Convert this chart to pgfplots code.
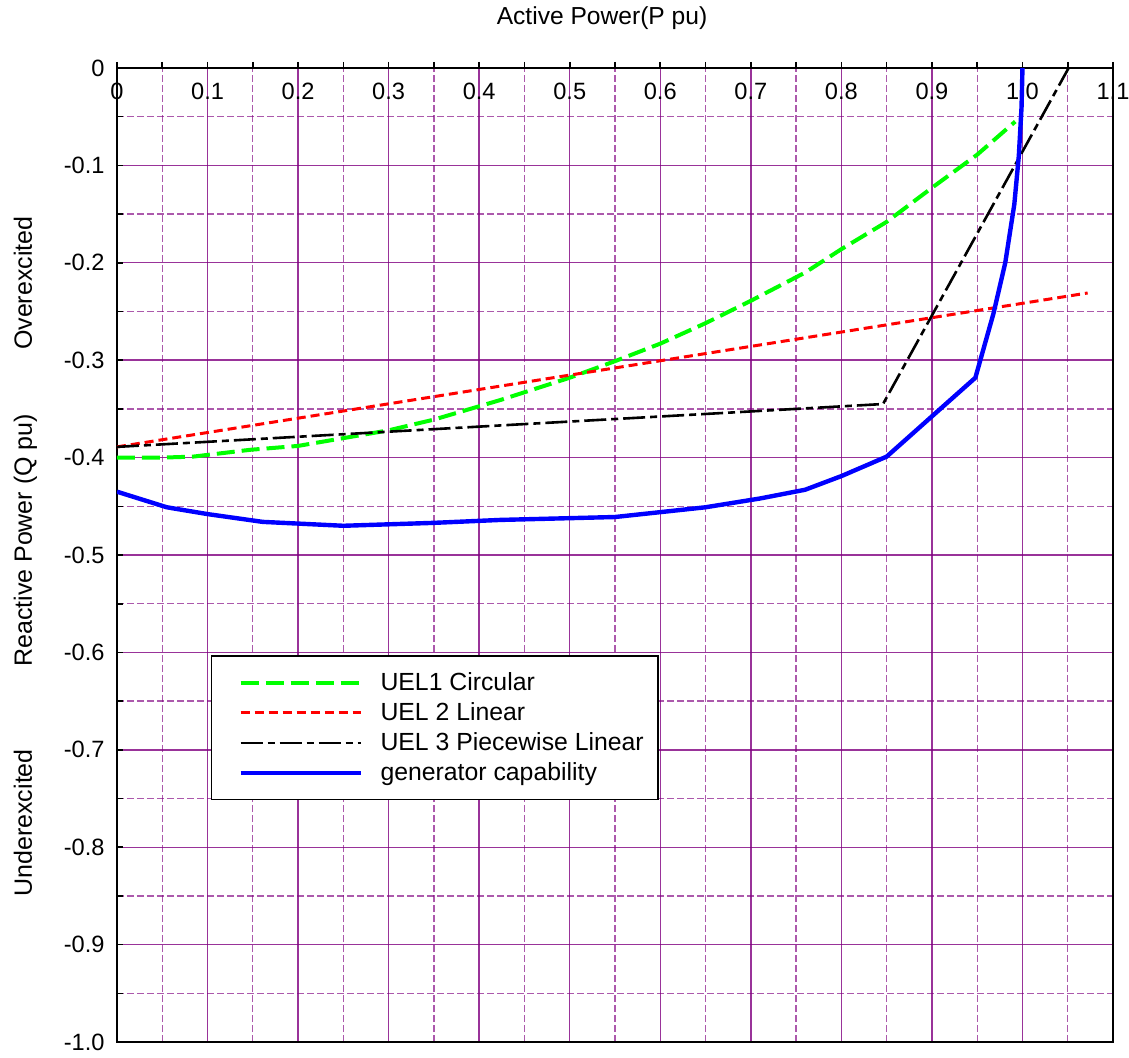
\documentclass[border=0pt]{standalone}
\usepackage{fontspec}
\setmainfont{Liberation Sans}
\usepackage{pgfplots}
\pgfplotsset{compat=1.18}
\definecolor{gridpurple}{RGB}{128,0,128}
\definecolor{ggreen}{RGB}{0,255,0}
\begin{document}
\begin{tikzpicture}
\begin{axis}[
  scale only axis, width=498pt, height=487pt,
  xmin=0, xmax=1.1, ymin=-1, ymax=0,
  axis line style={line width=1pt},
  xtick={0,0.1,0.2,0.3,0.4,0.5,0.6,0.7,0.8,0.9,1.0,1.1},
  xticklabels={0,0.1,0.2,0.3,0.4,0.5,0.6,0.7,0.8,0.9,1.0,1.1},
  minor xtick={0.05,0.15,0.25,0.35,0.45,0.55,0.65,0.75,0.85,0.95,1.05},
  ytick={-1,-0.9,-0.8,-0.7,-0.6,-0.5,-0.4,-0.3,-0.2,-0.1,0},
  yticklabels={-1.0,-0.9,-0.8,-0.7,-0.6,-0.5,-0.4,-0.3,-0.2,-0.1,0},
  minor ytick={-0.95,-0.85,-0.75,-0.65,-0.55,-0.45,-0.35,-0.25,-0.15,-0.05},
  grid=both,
  major grid style={gridpurple, opacity=0.8, line width=0.7pt},
  minor grid style={gridpurple, opacity=0.65, line width=0.65pt, dash pattern=on 3.5pt off 1.5pt},
  xtick pos=right, ytick pos=left, xticklabel pos=right,
  xtick align=outside, ytick align=inside,
  major tick length=3pt, minor tick length=3pt,
  tick style={black, line width=0.8pt},
  ticklabel style={font=\fontsize{11.8}{13}\selectfont},
  xticklabel style={anchor=center, yshift=-14.5pt},
  yticklabel style={xshift=-2.7pt},
  legend style={at={(rel axis cs:0.0944,0.397)}, anchor=north west, draw=black,
    line width=0.7pt, fill=white, font=\fontsize{12.4}{14}\selectfont,
    inner xsep=5pt, inner ysep=6.2pt, row sep=0.5pt,
    /tikz/every odd column/.append style={column sep=6.8pt}},
  legend cell align=left,
  legend image code/.code={\path[draw=none] (0pt,0pt) -- (0pt,0.01pt); \draw[#1] (9.5pt,0pt) -- (69.5pt,0pt);},
]
\addplot[color=ggreen, line width=2pt, dash pattern=on 9pt off 3.5pt] coordinates {
(0,-0.400) (0.05,-0.400) (0.084,-0.399) (0.147,-0.392) (0.2,-0.388) (0.25,-0.380)
(0.3,-0.372) (0.35,-0.361) (0.423,-0.341) (0.5,-0.318) (0.55,-0.301) (0.6,-0.283)
(0.65,-0.262) (0.7,-0.239) (0.76,-0.210) (0.8,-0.186) (0.85,-0.158) (0.9,-0.123)
(0.95,-0.089) (0.992,-0.055)};
\addlegendentry{UEL1 Circular}
\addplot[color=red, line width=1.5pt, dash pattern=on 4.5pt off 2.5pt] coordinates {
(0,-0.389) (1.072,-0.231)};
\addlegendentry{UEL 2 Linear}
\addplot[color=black, line width=1.3pt, dash pattern=on 11pt off 2.5pt on 3.5pt off 2.5pt] coordinates {
(0,-0.389) (0.846,-0.345) (1.051,0)};
\addlegendentry{UEL 3 Piecewise Linear}
\addplot[color=blue, line width=2.2pt] coordinates {
(0,-0.435) (0.055,-0.451) (0.1,-0.458) (0.161,-0.466) (0.25,-0.470) (0.35,-0.467)
(0.423,-0.464) (0.55,-0.461) (0.65,-0.451) (0.71,-0.442) (0.76,-0.433) (0.8,-0.419)
(0.85,-0.399) (0.948,-0.318) (0.968,-0.252) (0.981,-0.200) (0.991,-0.14)
(0.996,-0.09) (0.999,-0.04) (1.0,0)};
\addlegendentry{generator capability}
\coordinate (sw) at (rel axis cs:0,0);
\coordinate (ov) at (axis cs:0,-0.221);
\coordinate (rp) at (axis cs:0,-0.485);
\coordinate (un) at (axis cs:0,-0.775);
\coordinate (tt) at (rel axis cs:0.487,1);
\end{axis}
\node[rotate=90, anchor=base, font=\fontsize{12.5}{14}\selectfont] at ([xshift=-42.5pt]ov) {Overexcited};
\node[rotate=90, anchor=base, font=\fontsize{12.5}{14}\selectfont] at ([xshift=-42.5pt]rp) {Reactive Power (Q pu)};
\node[rotate=90, anchor=base, font=\fontsize{12.5}{14}\selectfont] at ([xshift=-42.5pt]un) {Underexcited};
\node[anchor=base, font=\fontsize{12.3}{14}\selectfont] at ([yshift=21.5pt]tt) {Active Power(P pu)};
\pgfresetboundingbox
\useasboundingbox ([shift={(-58.5pt,-7.5pt)}]sw) rectangle ([shift={(506pt,521pt)}]sw);
\end{tikzpicture}
\end{document}
